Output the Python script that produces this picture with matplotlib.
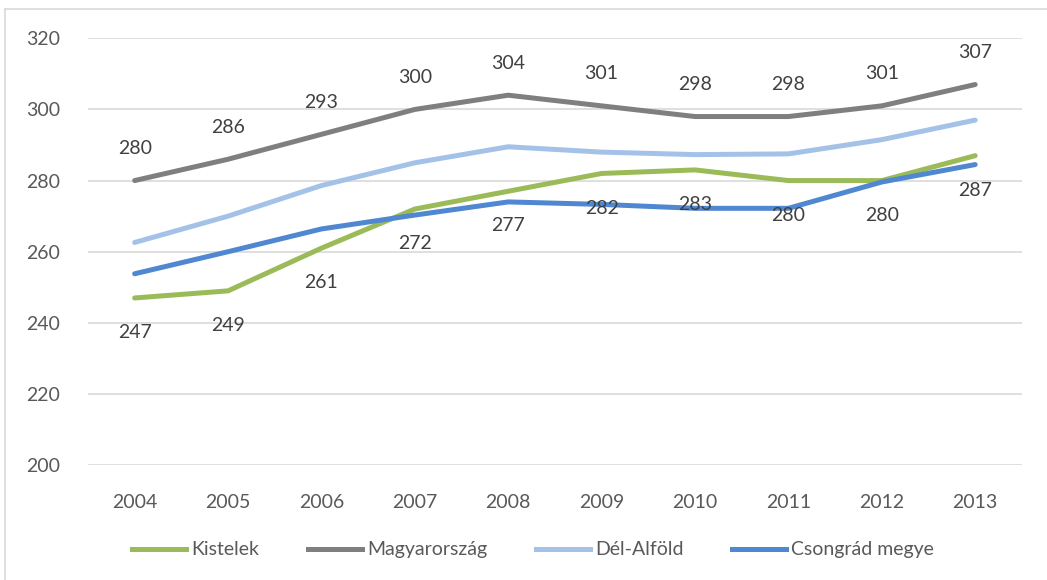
import matplotlib.pyplot as plt
from matplotlib.lines import Line2D

plt.rcParams['font.family'] = ['Lato', 'DejaVu Sans']

years = ['2004', '2005', '2006', '2007', '2008', '2009', '2010', '2011', '2012', '2013']
kistelek = [247, 249, 261, 272, 277, 282, 283, 280, 280, 287]
magyarorszag = [280, 286, 293, 300, 304, 301, 298, 298, 301, 307]
del_alfold = [262.6, 270.0, 278.6, 285.0, 289.5, 288.0, 287.3, 287.5, 291.5, 297.0]
csongrad = [253.8, 260.0, 266.4, 270.3, 274.0, 273.3, 272.2, 272.2, 279.6, 284.5]

series = [
    ('Kistelek', kistelek, '#9bbb59'),
    ('Magyarország', magyarorszag, '#7f7f7f'),
    ('Dél-Alföld', del_alfold, '#a4c2e8'),
    ('Csongrád megye', csongrad, '#4f87d1'),
]

fig = plt.figure(figsize=(10.47, 5.8), dpi=100)
ax = fig.add_axes([0.084, 0.198, 0.892, 0.736])

x = list(range(len(years)))
for name, vals, col in series:
    ax.plot(x, vals, color=col, linewidth=3.6, solid_capstyle='round',
            solid_joinstyle='round', label=name)

# value labels: national average above, Kistelek below
for i, v in enumerate(magyarorszag):
    ax.annotate(f'{v:.0f}', (i, v), xytext=(0, 23), textcoords='offset points',
                ha='center', va='center', fontsize=14, color='#404040', zorder=10)
for i, v in enumerate(kistelek):
    ax.annotate(f'{v:.0f}', (i, v), xytext=(0, -25), textcoords='offset points',
                ha='center', va='center', fontsize=14, color='#404040', zorder=10)

ax.set_xlim(-0.5, len(years) - 0.5)
ax.set_ylim(200, 320)
ax.set_yticks(range(200, 321, 20))
ax.set_xticks(x)
ax.set_xticklabels(years)
ax.grid(axis='y', color='#d9d9d9', linewidth=1.2)
ax.set_axisbelow(True)
for s in ax.spines.values():
    s.set_visible(False)
ax.tick_params(axis='both', length=0, labelsize=14, labelcolor='#595959')
ax.tick_params(axis='y', pad=20)
ax.tick_params(axis='x', pad=21)

handles = [Line2D([0], [0], color=c, linewidth=3.6) for _, _, c in series]
fig.legend(handles, [n for n, _, _ in series], loc='center', ncol=4,
           bbox_to_anchor=(0.509, 0.052), frameon=False, fontsize=14,
           labelcolor='#595959', handlelength=2.8, handletextpad=0.25,
           columnspacing=2.5)

# chart frame
fig.add_artist(Line2D([5 / 1047, 1.0], [1 - 9 / 580, 1 - 9 / 580],
                      transform=fig.transFigure, color='#d9d9d9', linewidth=1.2))
fig.add_artist(Line2D([5 / 1047, 5 / 1047], [0, 1 - 9 / 580],
                      transform=fig.transFigure, color='#d9d9d9', linewidth=1.2))

fig.savefig('out.png', dpi=100)
